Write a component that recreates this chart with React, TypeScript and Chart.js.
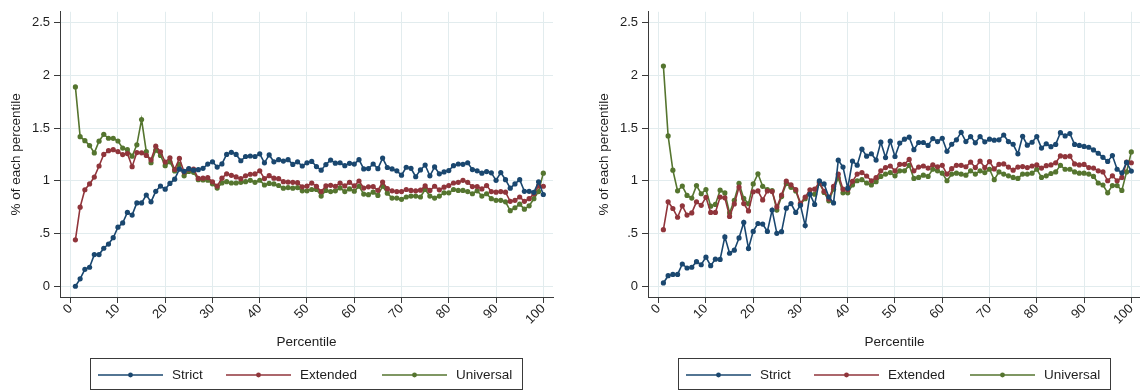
import React, { useEffect, useRef } from "react";
import { Chart, registerables } from "chart.js";

Chart.register(...registerables);

// Percentile categories on the x axis
const percentiles = Array.from({ length: 100 }, (_, i) => i + 1);

const xTickValues = [0, 10, 20, 30, 40, 50, 60, 70, 80, 90, 100];
const yTickValues = [0, 0.5, 1, 1.5, 2, 2.5];
const yTickLabels = ["0", ".5", "1", "1.5", "2", "2.5"];

const seriesNames = ["Strict", "Extended", "Universal"];
const seriesColors = ["#1a476f", "#90353b", "#55752f"];

// Left panel
const leftStrict = [
  0.0, 0.07, 0.16, 0.18, 0.3, 0.3, 0.36, 0.4, 0.46, 0.56,
  0.6, 0.7, 0.675, 0.79, 0.79, 0.865, 0.8, 0.9, 0.95, 0.92,
  0.975, 1.015, 1.11, 1.09, 1.115, 1.1, 1.105, 1.118, 1.158, 1.18,
  1.13, 1.16, 1.25, 1.27, 1.25, 1.19, 1.23, 1.235, 1.23, 1.255,
  1.17, 1.245, 1.18, 1.2, 1.187, 1.2, 1.155, 1.18, 1.14, 1.17,
  1.183, 1.135, 1.1, 1.154, 1.196, 1.167, 1.171, 1.143, 1.165, 1.158,
  1.2, 1.112, 1.116, 1.159, 1.115, 1.215, 1.126, 1.112, 1.094, 1.053,
  1.128, 1.118, 1.038, 1.103, 1.149, 1.047, 1.131, 1.066, 1.084, 1.097,
  1.143, 1.159, 1.156, 1.171, 1.106, 1.094, 1.072, 1.087, 1.075, 1.004,
  1.078, 1.01, 0.93, 0.97, 1.01, 0.9, 0.9, 0.89, 0.99, 0.87,
];
const leftExtended = [
  0.44, 0.75, 0.915, 0.97, 1.035, 1.14, 1.25, 1.285, 1.295, 1.277,
  1.248, 1.258, 1.134, 1.267, 1.265, 1.24, 1.198, 1.328, 1.275, 1.178,
  1.218, 1.107, 1.212, 1.083, 1.11, 1.11, 1.022, 1.025, 1.03, 0.99,
  0.95, 1.025, 1.066, 1.052, 1.036, 1.02, 1.047, 1.062, 1.065, 1.094,
  1.021, 1.048, 1.025, 1.02, 0.991, 0.988, 0.985, 0.982, 0.943, 0.95,
  0.978, 0.948, 0.898, 0.951, 0.957, 0.948, 0.978, 0.951, 0.985, 0.951,
  0.998, 0.931, 0.943, 0.945, 0.909, 0.988, 0.925, 0.905, 0.898, 0.898,
  0.917, 0.908, 0.905, 0.911, 0.951, 0.908, 0.948, 0.914, 0.939, 0.954,
  0.979, 0.985, 1.004, 0.985, 0.945, 0.945, 0.923, 0.954, 0.898, 0.892,
  0.898, 0.892, 0.805, 0.815, 0.846, 0.805, 0.83, 0.877, 0.951, 0.948,
];
const leftUniversal = [
  1.89, 1.418, 1.38, 1.334, 1.264, 1.375, 1.44, 1.403, 1.402, 1.377,
  1.31, 1.295, 1.233, 1.341, 1.58, 1.276, 1.171, 1.29, 1.24, 1.143,
  1.18, 1.093, 1.155, 1.047, 1.088, 1.08, 1.01, 1.008, 1.006, 0.971,
  0.931, 0.98, 0.991, 0.979, 0.979, 0.985, 0.991, 1.004, 0.985, 1.005,
  0.96, 0.975, 0.97, 0.955, 0.93, 0.935, 0.93, 0.935, 0.905, 0.905,
  0.917, 0.917, 0.855, 0.908, 0.898, 0.905, 0.932, 0.898, 0.923, 0.901,
  0.948, 0.874, 0.868, 0.892, 0.861, 0.948, 0.882, 0.836, 0.836, 0.824,
  0.846, 0.855, 0.855, 0.846, 0.917, 0.855, 0.836, 0.855, 0.886, 0.886,
  0.917, 0.908, 0.908, 0.898, 0.877, 0.905, 0.855, 0.877, 0.83, 0.815,
  0.815, 0.8, 0.716, 0.744, 0.778, 0.731, 0.762, 0.83, 0.898, 1.072,
];

// Right panel
const rightStrict = [
  0.031, 0.1, 0.112, 0.112, 0.211, 0.173, 0.18, 0.233, 0.204, 0.276,
  0.195, 0.257, 0.254, 0.468, 0.313, 0.342, 0.458, 0.605, 0.359, 0.52,
  0.595, 0.589, 0.52, 0.722, 0.502, 0.517, 0.74, 0.784, 0.7, 0.768,
  0.575, 0.872, 0.776, 1.0, 0.97, 0.846, 0.79, 1.195, 1.13, 0.93,
  1.187, 1.148, 1.3, 1.233, 1.256, 1.196, 1.366, 1.22, 1.375, 1.23,
  1.357, 1.394, 1.413, 1.295, 1.363, 1.363, 1.335, 1.4, 1.372, 1.403,
  1.279, 1.346, 1.388, 1.459, 1.372, 1.419, 1.36, 1.419, 1.369, 1.394,
  1.385, 1.388, 1.434, 1.372, 1.346, 1.255, 1.422, 1.337, 1.365, 1.419,
  1.31, 1.351, 1.323, 1.345, 1.456, 1.425, 1.447, 1.345, 1.335, 1.326,
  1.318, 1.292, 1.261, 1.222, 1.183, 1.239, 1.109, 1.075, 1.174, 1.092,
];
const rightExtended = [
  0.536, 0.8, 0.737, 0.654, 0.762, 0.675, 0.695, 0.8, 0.767, 0.843,
  0.7, 0.7, 0.845, 0.838, 0.662, 0.78, 0.94, 0.784, 0.714, 0.896,
  0.904, 0.818, 0.903, 0.898, 0.752, 0.864, 0.997, 0.962, 0.917, 0.787,
  0.845, 0.915, 0.92, 0.988, 0.9, 0.827, 0.946, 1.063, 0.92, 0.915,
  0.995, 1.063, 1.078, 1.045, 1.0, 1.03, 1.094, 1.125, 1.14, 1.094,
  1.156, 1.156, 1.202, 1.094, 1.13, 1.14, 1.12, 1.152, 1.132, 1.146,
  1.063, 1.115, 1.146, 1.146, 1.133, 1.177, 1.125, 1.186, 1.125, 1.182,
  1.112, 1.156, 1.16, 1.13, 1.1, 1.13, 1.135, 1.125, 1.14, 1.15,
  1.12, 1.143, 1.15, 1.17, 1.236, 1.228, 1.233, 1.16, 1.15, 1.155,
  1.125, 1.12, 1.094, 1.084, 1.0, 1.047, 1.0, 1.032, 1.177, 1.171,
];
const rightUniversal = [
  2.087, 1.425, 1.1, 0.905, 0.95, 0.861, 0.836, 0.954, 0.877, 0.917,
  0.759, 0.776, 0.911, 0.885, 0.695, 0.815, 0.976, 0.833, 0.782, 0.97,
  1.066, 0.947, 0.916, 0.907, 0.722, 0.85, 0.973, 0.938, 0.903, 0.778,
  0.83, 0.88, 0.872, 0.978, 0.889, 0.81, 0.92, 1.027, 0.886, 0.886,
  0.96, 1.0, 1.01, 0.979, 0.96, 0.991, 1.041, 1.063, 1.078, 1.047,
  1.094, 1.094, 1.146, 1.022, 1.032, 1.053, 1.041, 1.109, 1.094, 1.072,
  1.0, 1.063, 1.072, 1.063, 1.053, 1.094, 1.063, 1.094, 1.078, 1.109,
  1.01, 1.084, 1.063, 1.047, 1.032, 1.022, 1.063, 1.063, 1.072, 1.109,
  1.032, 1.047, 1.069, 1.084, 1.146, 1.109, 1.109, 1.084, 1.072, 1.072,
  1.063, 1.041, 0.979, 0.96, 0.886, 0.954, 0.954, 0.908, 1.084, 1.273,
];

const FONT_FAMILY = "'Liberation Sans', Arial, Helvetica, sans-serif";
const TEXT_COLOR = "#1e1e1e";
const GRID_COLOR = "#e2ecee";
const AXIS_COLOR = "#3a3a3a";

const PANEL_WIDTH = 588;
const PANEL_HEIGHT = 392;

// Boxed legend under the x-axis title: line + marker sample, then the label
const boxedLegend = {
  id: "boxedLegend",
  afterDraw(chart: any) {
    const ctx = chart.ctx as CanvasRenderingContext2D;
    const boxLeft = 90;
    const boxTop = 358;
    const boxWidth = 432;
    const boxHeight = 31;
    const midY = boxTop + 17;
    const slots = [
      { lineStart: 98, lineEnd: 163, textX: 172 },
      { lineStart: 226, lineEnd: 291, textX: 300 },
      { lineStart: 382, lineEnd: 447, textX: 456 },
    ];
    ctx.save();
    ctx.strokeStyle = AXIS_COLOR;
    ctx.lineWidth = 1;
    ctx.strokeRect(boxLeft + 0.5, boxTop + 0.5, boxWidth, boxHeight);
    ctx.font = `13.5px ${FONT_FAMILY}`;
    ctx.textBaseline = "middle";
    ctx.textAlign = "left";
    slots.forEach((slot, i) => {
      const color = seriesColors[i];
      ctx.strokeStyle = color;
      ctx.lineWidth = 1.6;
      ctx.beginPath();
      ctx.moveTo(slot.lineStart, midY);
      ctx.lineTo(slot.lineEnd, midY);
      ctx.stroke();
      ctx.fillStyle = color;
      ctx.beginPath();
      ctx.arc((slot.lineStart + slot.lineEnd) / 2, midY, 2.4, 0, Math.PI * 2);
      ctx.fill();
      ctx.fillStyle = TEXT_COLOR;
      ctx.fillText(seriesNames[i], slot.textX, midY);
    });
    ctx.restore();
  },
};

function Panel({ series }: { series: number[][] }) {
  const canvasRef = useRef<HTMLCanvasElement | null>(null);

  useEffect(() => {
    const canvas = canvasRef.current;
    if (!canvas) return;
    const tickFont = { family: FONT_FAMILY, size: 13 };
    const titleFont = { family: FONT_FAMILY, size: 13.5 };

    const chart = new Chart(canvas, {
      type: "line",
      data: {
        datasets: series.map((values, i) => ({
          label: seriesNames[i],
          data: percentiles.map((p, j) => ({ x: p, y: values[j] })),
          borderColor: seriesColors[i],
          backgroundColor: seriesColors[i],
          pointBackgroundColor: seriesColors[i],
          borderWidth: 1.6,
          pointRadius: 2.6,
          pointBorderWidth: 0,
          tension: 0,
          fill: false,
        })),
      },
      options: {
        animation: false,
        responsive: false,
        maintainAspectRatio: false,
        events: [],
        layout: { padding: { left: 0, right: 35, top: 6, bottom: 38 } },
        plugins: {
          legend: { display: false },
          tooltip: { enabled: false },
        },
        scales: {
          x: {
            type: "linear",
            min: -2.26,
            max: 102.05,
            afterBuildTicks: (scale: any) => {
              scale.ticks = xTickValues.map((v) => ({ value: v }));
            },
            afterFit: (scale: any) => {
              scale.height = 57;
            },
            ticks: {
              autoSkip: false,
              minRotation: 45,
              maxRotation: 45,
              padding: -2,
              color: TEXT_COLOR,
              font: tickFont,
              callback: (v: any) => String(v),
            },
            grid: {
              color: GRID_COLOR,
              lineWidth: 1,
              drawTicks: true,
              tickLength: 6,
              tickColor: AXIS_COLOR,
            },
            border: { display: true, color: AXIS_COLOR, width: 1 },
            title: {
              display: true,
              text: "Percentile",
              color: TEXT_COLOR,
              font: titleFont,
              padding: { top: 0, bottom: 4 },
            },
          },
          y: {
            type: "linear",
            min: -0.102,
            max: 2.602,
            afterBuildTicks: (scale: any) => {
              scale.ticks = yTickValues.map((v) => ({ value: v }));
            },
            afterFit: (scale: any) => {
              scale.width = 60;
            },
            ticks: {
              padding: 4,
              color: TEXT_COLOR,
              font: tickFont,
              callback: (v: any) => {
                const idx = yTickValues.indexOf(Number(v));
                return idx >= 0 ? yTickLabels[idx] : "";
              },
            },
            grid: {
              color: GRID_COLOR,
              lineWidth: 1,
              drawTicks: true,
              tickLength: 6,
              tickColor: AXIS_COLOR,
            },
            border: { display: true, color: AXIS_COLOR, width: 1 },
            title: {
              display: true,
              text: "% of each percentile",
              color: TEXT_COLOR,
              font: titleFont,
              padding: { top: 8, bottom: 0 },
            },
          },
        },
      },
      plugins: [boxedLegend],
    } as any);

    return () => chart.destroy();
  }, [series]);

  return (
    <canvas
      ref={canvasRef}
      width={PANEL_WIDTH}
      height={PANEL_HEIGHT}
      style={{ display: "block", width: PANEL_WIDTH, height: PANEL_HEIGHT, flexShrink: 0 }}
    />
  );
}

const leftSeries = [leftStrict, leftExtended, leftUniversal];
const rightSeries = [rightStrict, rightExtended, rightUniversal];

export default function App() {
  return (
    <div
      style={{
        position: "fixed",
        left: 0,
        top: 0,
        width: 1140,
        height: PANEL_HEIGHT,
        overflow: "hidden",
        background: "#ffffff",
        display: "flex",
      }}
    >
      <Panel series={leftSeries} />
      <Panel series={rightSeries} />
    </div>
  );
}
